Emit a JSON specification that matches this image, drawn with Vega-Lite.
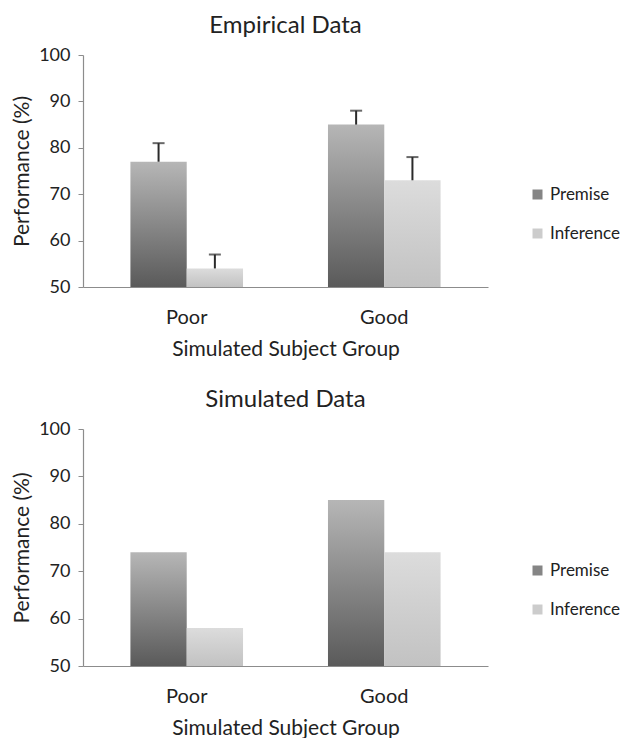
{
  "$schema": "https://vega.github.io/schema/vega-lite/v6.json",
  "background": "white",
  "padding": {"left": 11, "top": 14, "right": 0, "bottom": 0},
  "config": {
    "view": {"stroke": null},
    "font": "Lato",
    "title": {"fontSize": 24, "fontWeight": "normal", "color": "#222", "offset": 8, "anchor": "middle"},
    "axis": {"labelFont": "Lato", "titleFont": "Lato", "labelColor": "#222", "titleColor": "#222", "labelFontSize": 18, "titleFontSize": 21, "titleFontWeight": "normal", "grid": false, "domainColor": "#8c8c8c", "tickColor": "#8c8c8c", "domainWidth": 1.2},
    "legend": {"labelFont": "Lato", "labelFontSize": 17, "labelColor": "#222"}
  },
  "data": {"values": [
    {"panel": "Empirical", "group": "Poor", "series": "Premise", "value": 77, "err": 81},
    {"panel": "Empirical", "group": "Poor", "series": "Inference", "value": 54, "err": 57},
    {"panel": "Empirical", "group": "Good", "series": "Premise", "value": 85, "err": 88},
    {"panel": "Empirical", "group": "Good", "series": "Inference", "value": 73, "err": 78},
    {"panel": "Simulated", "group": "Poor", "series": "Premise", "value": 74, "err": null},
    {"panel": "Simulated", "group": "Poor", "series": "Inference", "value": 58, "err": null},
    {"panel": "Simulated", "group": "Good", "series": "Premise", "value": 85, "err": null},
    {"panel": "Simulated", "group": "Good", "series": "Inference", "value": 74, "err": null}
  ]},
  "spacing": 29,
  "resolve": {"scale": {"color": "independent"}, "legend": {"color": "independent"}},
  "vconcat": [
    {
      "width": 405, "height": 232,
      "title": "Empirical Data",
      "transform": [{"filter": "datum.panel === 'Empirical'"}],
      "encoding": {
        "x": {"field": "group", "type": "nominal", "sort": ["Poor", "Good"], "scale": {"paddingInner": 0.43, "paddingOuter": 0.24},
          "axis": {"labelAngle": 0, "ticks": false, "labelPadding": 20, "labelFontSize": 20, "titlePadding": 11, "title": "Simulated Subject Group"}},
        "xOffset": {"field": "series", "type": "nominal", "sort": ["Premise", "Inference"], "scale": {"paddingInner": 0, "paddingOuter": 0}}
      },
      "layer": [
        {
          "mark": {"type": "bar"},
          "encoding": {
            "y": {"field": "value", "type": "quantitative", "scale": {"domain": [50, 100], "zero": false, "nice": false},
              "axis": {"values": [50, 60, 70, 80, 90, 100], "tickSize": 5, "labelPadding": 8, "titlePadding": 6, "title": "Performance (%)"}},
            "y2": {"datum": 50},
            "fill": {"condition": {"test": "datum.series === 'Premise'", "value": {"gradient": "linear", "x1": 0, "y1": 1, "x2": 0, "y2": 0, "stops": [{"offset": 0, "color": "#5a5a5a"}, {"offset": 1, "color": "#b6b6b6"}]}},
              "value": {"gradient": "linear", "x1": 0, "y1": 1, "x2": 0, "y2": 0, "stops": [{"offset": 0, "color": "#c2c2c2"}, {"offset": 1, "color": "#dcdcdc"}]}}
          }
        },
        {
          "mark": {"type": "square", "opacity": 0, "size": 1},
          "encoding": {
            "y": {"field": "value", "type": "quantitative"},
            "color": {"field": "series", "type": "nominal", "sort": ["Premise", "Inference"],
              "scale": {"domain": ["Premise", "Inference"], "range": ["#858585", "#cccccc"]},
              "legend": {"title": null, "orient": "none", "legendX": 446, "legendY": 131, "symbolType": "square", "symbolSize": 100, "symbolOpacity": 1, "rowPadding": 21, "labelOffset": 4, "symbolStrokeWidth": 0}}
          }
        },
        {
          "mark": {"type": "rule", "color": "#2a2a2a", "strokeWidth": 2},
          "encoding": {"y": {"field": "value", "type": "quantitative"}, "y2": {"field": "err"}}
        },
        {
          "mark": {"type": "tick", "color": "#2a2a2a", "thickness": 2, "size": 12},
          "encoding": {"y": {"field": "err", "type": "quantitative"}}
        }
      ]
    },
    {
      "width": 405, "height": 237,
      "title": "Simulated Data",
      "transform": [{"filter": "datum.panel === 'Simulated'"}],
      "encoding": {
        "x": {"field": "group", "type": "nominal", "sort": ["Poor", "Good"], "scale": {"paddingInner": 0.43, "paddingOuter": 0.24},
          "axis": {"labelAngle": 0, "ticks": false, "labelPadding": 20, "labelFontSize": 20, "titlePadding": 11, "title": "Simulated Subject Group"}},
        "xOffset": {"field": "series", "type": "nominal", "sort": ["Premise", "Inference"], "scale": {"paddingInner": 0, "paddingOuter": 0}}
      },
      "layer": [
        {
          "mark": {"type": "bar"},
          "encoding": {
            "y": {"field": "value", "type": "quantitative", "scale": {"domain": [50, 100], "zero": false, "nice": false},
              "axis": {"values": [50, 60, 70, 80, 90, 100], "tickSize": 5, "labelPadding": 8, "titlePadding": 6, "title": "Performance (%)"}},
            "y2": {"datum": 50},
            "fill": {"condition": {"test": "datum.series === 'Premise'", "value": {"gradient": "linear", "x1": 0, "y1": 1, "x2": 0, "y2": 0, "stops": [{"offset": 0, "color": "#5a5a5a"}, {"offset": 1, "color": "#b6b6b6"}]}},
              "value": {"gradient": "linear", "x1": 0, "y1": 1, "x2": 0, "y2": 0, "stops": [{"offset": 0, "color": "#c2c2c2"}, {"offset": 1, "color": "#dcdcdc"}]}}
          }
        },
        {
          "mark": {"type": "square", "opacity": 0, "size": 1},
          "encoding": {
            "y": {"field": "value", "type": "quantitative"},
            "color": {"field": "series", "type": "nominal", "sort": ["Premise", "Inference"],
              "scale": {"domain": ["Premise", "Inference"], "range": ["#858585", "#cccccc"]},
              "legend": {"title": null, "orient": "none", "legendX": 446, "legendY": 133, "symbolType": "square", "symbolSize": 100, "symbolOpacity": 1, "rowPadding": 21, "labelOffset": 4, "symbolStrokeWidth": 0}}
          }
        }
      ]
    }
  ]
}
